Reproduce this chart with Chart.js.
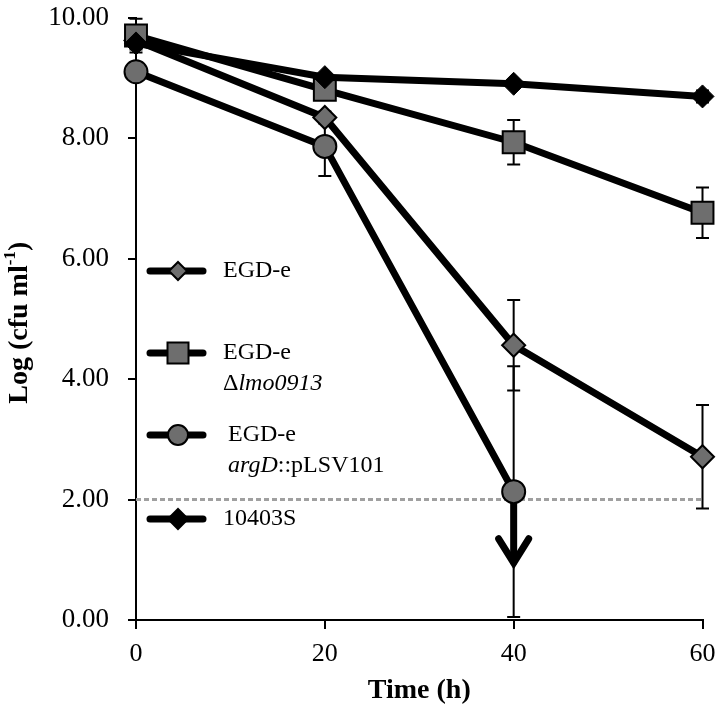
<!DOCTYPE html>
<html lang="en">
<head>
  <meta charset="UTF-8">
  <title>Survival over time</title>
  <script src="https://cdn.jsdelivr.net/npm/chart.js"></script>
  <style>
    body { margin: 0; background: #fff; }
    canvas { display: block; }
  </style>
</head>
<body>
  <canvas id="survivalChart" width="720" height="710"></canvas>

  <script>
    // Data (log cfu/ml)
    const times = [0, 20, 40, 60];
    const egdeValues = [9.62, 8.34, 4.56, 2.71];
    const egdeErrors = [0.10, 0.10, 0.75, 0.86];
    const lmoValues = [9.70, 8.80, 7.93, 6.76];
    const lmoErrors = [0.28, 0.10, 0.37, 0.42];
    const argdValues = [9.10, 7.86, 2.13];
    const argdErrors = [0.10, 0.49, 2.08];
    const strainValues = [9.57, 9.01, 8.90, 8.69];
    const strainErrors = [0.10, 0.05, 0.05, 0.10];
    const yTickValues = [0, 2, 4, 6, 8, 10];
    const xTickValues = [0, 20, 40, 60];
    const detectionLimit = 2;
    // arrow below the argD point at 40 h
    const arrowTime = 40;
    const arrowFrom = 2.0;
    const arrowTo = 0.9;

    const FONT = "'Liberation Serif', 'Times New Roman', serif";
    const GREY = '#6e6e6e';

    function toPoints(values) {
      return values.map((v, i) => ({ x: times[i], y: v }));
    }

    // drawing a marker by hand for the legend
    function drawMarker(ctx, style, x, y, r, fill) {
      ctx.save();
      ctx.fillStyle = fill;
      ctx.strokeStyle = '#000';
      ctx.lineWidth = 2;
      ctx.beginPath();
      if (style === 'rectRot') {
        ctx.moveTo(x - r, y);
        ctx.lineTo(x, y - r);
        ctx.lineTo(x + r, y);
        ctx.lineTo(x, y + r);
        ctx.closePath();
      } else if (style === 'rect') {
        ctx.rect(x - r, y - r, 2 * r, 2 * r);
      } else {
        ctx.arc(x, y, r, 0, Math.PI * 2);
      }
      ctx.fill();
      ctx.stroke();
      ctx.restore();
    }

    // text made of plain and italic pieces
    function drawRich(ctx, parts, x, y, size) {
      let cx = x;
      for (const [text, italic] of parts) {
        ctx.font = (italic ? 'italic ' : '') + size + 'px ' + FONT;
        ctx.fillText(text, cx, y);
        cx += ctx.measureText(text).width;
      }
    }

    const legendEntries = [
      { style: 'rectRot', r: 9, fill: GREY, y: 271, textX: 223,
        lines: [[['EGD-e', false]]] },
      { style: 'rect', r: 10.5, fill: GREY, y: 353, textX: 223,
        lines: [[['EGD-e', false]], [['\u0394', false], ['lmo0913', true]]] },
      { style: 'circle', r: 10, fill: GREY, y: 435, textX: 228,
        lines: [[['EGD-e', false]], [['argD', true], ['::pLSV101', false]]] },
      { style: 'rectRot', r: 10, fill: '#000', y: 519, textX: 223,
        lines: [[['10403S', false]]] }
    ];

    const extrasPlugin = {
      id: 'extras',
      beforeDatasetsDraw(chart) {
        const ctx = chart.ctx;
        const xs = chart.scales.x;
        const ys = chart.scales.y;

        // detection limit line
        ctx.save();
        ctx.strokeStyle = '#a0a0a0';
        ctx.lineWidth = 3;
        ctx.setLineDash([5, 3]);
        ctx.beginPath();
        ctx.moveTo(xs.getPixelForValue(0), ys.getPixelForValue(detectionLimit));
        ctx.lineTo(xs.getPixelForValue(60), ys.getPixelForValue(detectionLimit));
        ctx.stroke();
        ctx.restore();

        // error bars
        const sets = [
          [egdeValues, egdeErrors],
          [lmoValues, lmoErrors],
          [argdValues, argdErrors],
          [strainValues, strainErrors]
        ];
        ctx.save();
        ctx.strokeStyle = '#000';
        ctx.lineWidth = 2;
        for (const [vals, errs] of sets) {
          vals.forEach((v, i) => {
            const px = xs.getPixelForValue(times[i]);
            const top = ys.getPixelForValue(v + errs[i]);
            const bot = ys.getPixelForValue(v - errs[i]);
            ctx.beginPath();
            ctx.moveTo(px, top);
            ctx.lineTo(px, bot);
            ctx.moveTo(px - 6.5, top);
            ctx.lineTo(px + 6.5, top);
            ctx.moveTo(px - 6.5, bot);
            ctx.lineTo(px + 6.5, bot);
            ctx.stroke();
          });
        }
        ctx.restore();

        // arrow
        const ax = xs.getPixelForValue(arrowTime);
        const ay1 = ys.getPixelForValue(arrowFrom);
        const ay2 = ys.getPixelForValue(arrowTo);
        ctx.save();
        ctx.strokeStyle = '#000';
        ctx.lineWidth = 7;
        ctx.lineCap = 'round';
        ctx.lineJoin = 'miter';
        ctx.beginPath();
        ctx.moveTo(ax, ay1);
        ctx.lineTo(ax, ay2 - 4);
        ctx.stroke();
        ctx.beginPath();
        ctx.moveTo(ax - 15, ay2 - 27);
        ctx.lineTo(ax, ay2 - 3);
        ctx.lineTo(ax + 15, ay2 - 27);
        ctx.stroke();
        ctx.restore();
      },
      afterDraw(chart) {
        const ctx = chart.ctx;
        const area = chart.chartArea;
        ctx.save();
        ctx.fillStyle = '#000';
        ctx.textBaseline = 'middle';

        // legend
        for (const e of legendEntries) {
          ctx.strokeStyle = '#000';
          ctx.lineWidth = 7;
          ctx.lineCap = 'round';
          ctx.beginPath();
          ctx.moveTo(150, e.y);
          ctx.lineTo(203, e.y);
          ctx.stroke();
          drawMarker(ctx, e.style, 178, e.y, e.r, e.fill);
          ctx.textAlign = 'left';
          e.lines.forEach((parts, i) => {
            drawRich(ctx, parts, e.textX, e.y + i * 31, 24);
          });
        }

        // x axis title
        ctx.textAlign = 'center';
        ctx.font = 'bold 28px ' + FONT;
        ctx.fillText('Time (h)', (area.left + area.right) / 2, 691);

        // y axis title with superscript
        ctx.translate(20, (area.top + area.bottom) / 2 + 4);
        ctx.rotate(-Math.PI / 2);
        ctx.textAlign = 'left';
        const main = 'Log (cfu ml';
        ctx.font = 'bold 28px ' + FONT;
        const w1 = ctx.measureText(main).width;
        const w3 = ctx.measureText(')').width;
        ctx.font = 'bold 17px ' + FONT;
        const w2 = ctx.measureText('-1').width;
        let x0 = -(w1 + w2 + w3) / 2;
        ctx.font = 'bold 28px ' + FONT;
        ctx.fillText(main, x0, 0);
        ctx.font = 'bold 17px ' + FONT;
        ctx.fillText('-1', x0 + w1, -9);
        ctx.font = 'bold 28px ' + FONT;
        ctx.fillText(')', x0 + w1 + w2, 0);
        ctx.restore();
      }
    };

    new Chart(document.getElementById('survivalChart'), {
      type: 'line',
      data: {
        datasets: [
          {
            label: '10403S',
            data: toPoints(strainValues),
            borderColor: '#000',
            borderWidth: 7,
            pointStyle: 'rectRot',
            pointRadius: 11.5,
            pointBackgroundColor: '#000',
            pointBorderColor: '#000',
            pointBorderWidth: 1,
            clip: false
          },
          {
            label: 'EGD-e \u0394lmo0913',
            data: toPoints(lmoValues),
            borderColor: '#000',
            borderWidth: 7,
            pointStyle: 'rect',
            pointRadius: 15.5,
            pointBackgroundColor: GREY,
            pointBorderColor: '#000',
            pointBorderWidth: 2,
            clip: false
          },
          {
            label: 'EGD-e',
            data: toPoints(egdeValues),
            borderColor: '#000',
            borderWidth: 7,
            pointStyle: 'rectRot',
            pointRadius: 11.5,
            pointBackgroundColor: GREY,
            pointBorderColor: '#000',
            pointBorderWidth: 2,
            clip: false
          },
          {
            label: 'EGD-e argD::pLSV101',
            data: toPoints(argdValues),
            borderColor: '#000',
            borderWidth: 7,
            pointStyle: 'circle',
            pointRadius: 11.5,
            pointBackgroundColor: GREY,
            pointBorderColor: '#000',
            pointBorderWidth: 2,
            clip: false
          }
        ]
      },
      options: {
        responsive: false,
        animation: false,
        layout: { padding: { left: 0, top: 8, right: 16, bottom: 0 } },
        plugins: {
          legend: { display: false },
          tooltip: { enabled: false }
        },
        scales: {
          x: {
            type: 'linear',
            min: 0,
            max: 60,
            afterBuildTicks: (scale) => { scale.ticks = xTickValues.map(v => ({ value: v })); },
            afterFit: (scale) => {
              scale.height = 90;
              scale.paddingLeft = 0;
              scale.paddingRight = 0;
            },
            ticks: {
              color: '#000',
              font: { family: FONT, size: 26 },
              padding: 10,
              maxRotation: 0
            },
            grid: { drawOnChartArea: false, color: '#000', lineWidth: 2, tickLength: 9 },
            border: { color: '#000', width: 2 }
          },
          y: {
            min: 0,
            max: 10,
            afterBuildTicks: (scale) => { scale.ticks = yTickValues.map(v => ({ value: v })); },
            afterFit: (scale) => {
              scale.width = 136;
              scale.paddingTop = 0;
              scale.paddingBottom = 0;
            },
            ticks: {
              color: '#000',
              font: { family: FONT, size: 27 },
              padding: 19,
              callback: (v) => v.toFixed(2)
            },
            grid: { drawOnChartArea: false, color: '#000', lineWidth: 2, tickLength: 8 },
            border: { color: '#000', width: 2 }
          }
        }
      },
      plugins: [extrasPlugin]
    });
  </script>
</body>
</html>
